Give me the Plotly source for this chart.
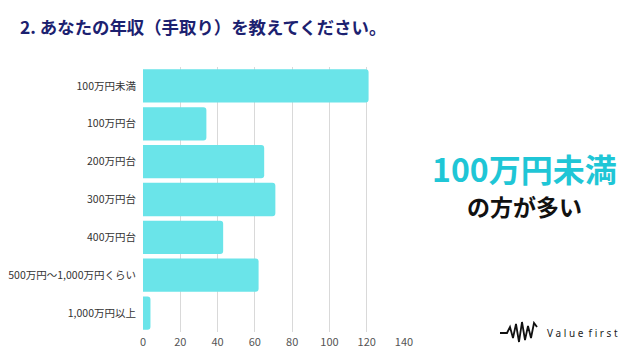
import plotly.graph_objects as go

categories = ["100万円未満", "100万円台", "200万円台", "300万円台", "400万円台",
              "500万円～1,000万円くらい", "1,000万円以上"]
values = [121, 34, 65, 71, 43, 62, 4]
x_ticks = [0, 20, 40, 60, 80, 100, 120, 140]

FONT = "Noto Sans CJK JP"

fig = go.Figure()
fig.add_trace(go.Bar(
    y=categories, x=values, orientation="h",
    marker=dict(color="#6ae4e9", cornerradius=3, line=dict(width=0)),
    hoverinfo="skip",
))

W, H = 640, 359
ml, mr, mt, mb = 143, 236, 67, 27

def px(xp):
    return (xp - ml) / (W - ml - mr)
def py(yp):
    return 1 - (yp - mt) / (H - mt - mb)

fig.update_layout(
    width=W, height=H,
    margin=dict(l=ml, r=mr, t=mt, b=mb, autoexpand=False),
    paper_bgcolor="white", plot_bgcolor="white",
    font=dict(family=FONT, color="#333333", size=11),
    showlegend=False,
    bargap=0.12,
    xaxis=dict(range=[0, 140], tickvals=x_ticks, showgrid=True,
               gridcolor="#d9d9d9", gridwidth=1, zeroline=False,
               showline=False, ticks="", tickfont=dict(size=11, color="#555555"),
               ticklabelstandoff=2),
    yaxis=dict(categoryorder="array", categoryarray=categories[::-1],
               showgrid=False, zeroline=False, showline=False, ticks="",
               tickfont=dict(size=10.5, color="#333333"), ticklabelstandoff=6),
    annotations=[
        dict(text="<b>2. あなたの年収（手取り）を教えてください。</b>",
             xref="paper", yref="paper", x=px(18), y=py(26),
             xanchor="left", yanchor="middle",
             showarrow=False, font=dict(family=FONT, size=17.4, color="#1c2170")),
        dict(text="<b>100万円未満</b>", xref="paper", yref="paper",
             x=px(524), y=py(168),
             xanchor="center", yanchor="middle", showarrow=False,
             font=dict(family=FONT, size=32, color="#1fc6d6")),
        dict(text="<b>の方が多い</b>", xref="paper", yref="paper",
             x=px(524), y=py(206),
             xanchor="center", yanchor="middle", showarrow=False,
             font=dict(family=FONT, size=23, color="#111111")),
        dict(text="V a l u e  f i r s t", xref="paper", yref="paper",
             x=px(545), y=py(333),
             xanchor="left", yanchor="middle", showarrow=False,
             font=dict(family="Noto Sans", size=10, color="#222222")),
    ],
)

# logo squiggle (decorative)
pts = [(500, 333), (507, 333), (510, 327), (513, 338), (516, 324), (519, 342),
       (522, 322), (525, 340), (528, 326), (531, 338), (534, 323), (537, 327)]
path = "M " + " L ".join(f"{px(a):.4f},{py(b):.4f}" for a, b in pts)
fig.add_shape(type="path", path=path, xref="paper", yref="paper",
              line=dict(color="#111111", width=1.8))

fig.write_html("out.html", config={"displayModeBar": False},
               post_script="document.body.style.margin='0';")
